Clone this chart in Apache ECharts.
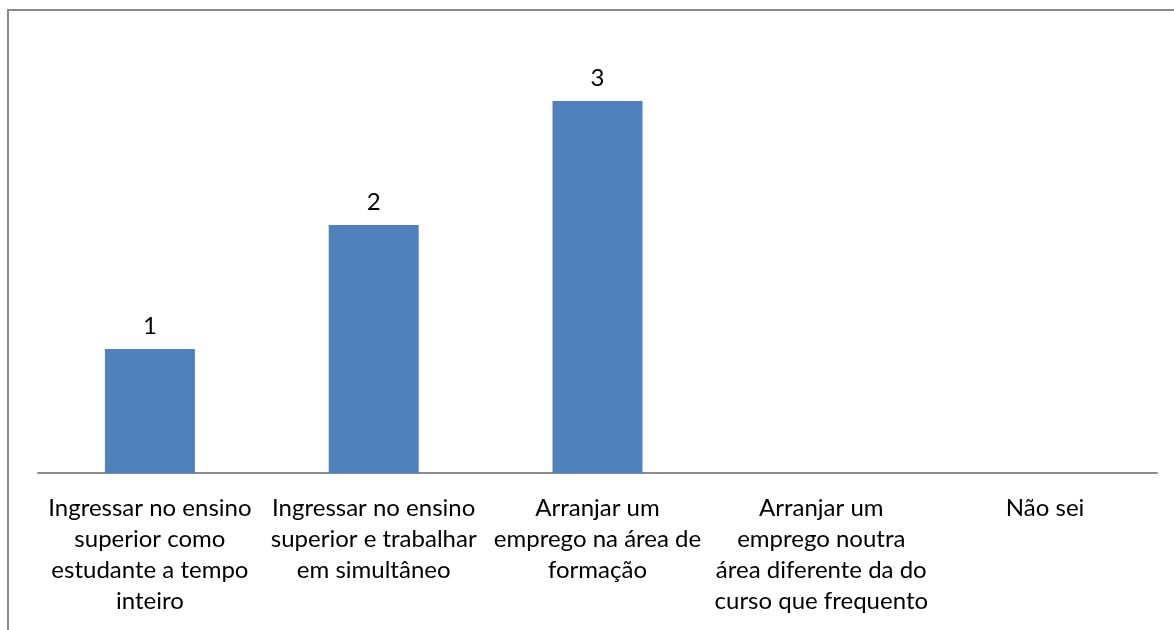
<!DOCTYPE html>
<html>
<head>
<meta charset="utf-8">
<script src="https://cdn.jsdelivr.net/npm/echarts@6/dist/echarts.min.js"></script>
<style>
  html, body { margin: 0; padding: 0; background: #fff; }
  #chart { width: 1174px; height: 630px; }
</style>
</head>
<body>
<div id="chart"></div>
<script>
  // categorias (quebras de linha como no original)
  var categorias = [
    'Ingressar no ensino\nsuperior como\nestudante a tempo\ninteiro',
    'Ingressar no ensino\nsuperior e trabalhar\nem simultâneo',
    'Arranjar um\nemprego na área de\nformação',
    'Arranjar um\nemprego noutra\nárea diferente da do\ncurso que frequento',
    'Não sei'
  ]
  var valores = [1, 2, 3, null, null]

  var myChart = echarts.init(document.getElementById('chart'))
  myChart.setOption({
    animation: false,
    backgroundColor: '#fff',
    graphic: [{
      type: 'rect',
      shape: { x: 8, y: 10, width: 1300, height: 800 },
      style: { fill: 'none', stroke: '#888888', lineWidth: 2 }
    }],
    grid: { left: 38, right: 17, top: 39, bottom: 157, containLabel: false, outerBoundsMode: 'none' },
    xAxis: {
      type: 'category',
      data: categorias,
      axisLine: { lineStyle: { color: '#8c8c8c', width: 2 } },
      axisTick: { show: false },
      axisLabel: {
        interval: 0,
        margin: 20,
        color: '#000',
        fontFamily: 'Lato',
        fontSize: 24,
        lineHeight: 31,
        align: 'center',
        verticalAlign: 'top'
      }
    },
    yAxis: {
      type: 'value',
      min: 0,
      max: 3.5,
      show: false,
      splitLine: { show: false }
    },
    series: [{
      type: 'bar',
      data: valores,
      barWidth: 90,
      itemStyle: { color: '#4f81bd' },
      label: {
        show: true,
        position: 'top',
        distance: 11,
        color: '#000',
        fontFamily: 'Lato',
        fontSize: 24
      }
    }]
  })
</script>
</body>
</html>
